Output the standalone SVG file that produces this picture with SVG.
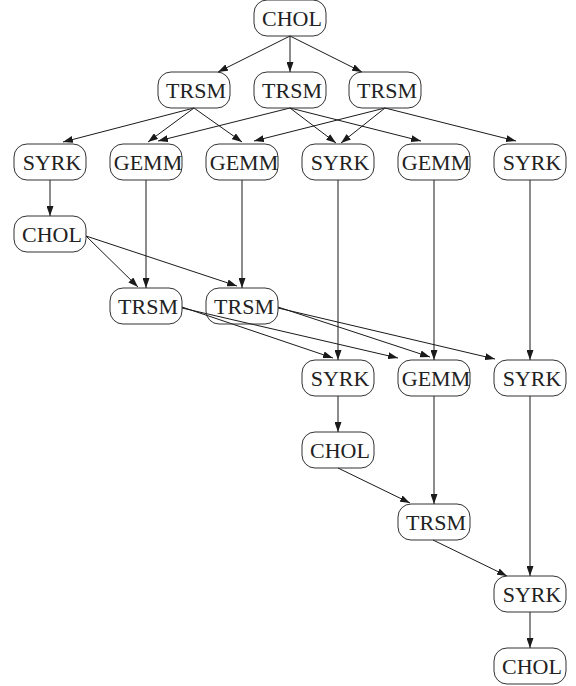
<svg xmlns="http://www.w3.org/2000/svg" width="576" height="686" viewBox="0 0 576 686">
<defs>
<marker id="ah" markerUnits="userSpaceOnUse" markerWidth="10" markerHeight="7" refX="10" refY="3.5" orient="auto">
<path d="M0,0 L10,3.5 L0,7 z" fill="#1a1a1a"/>
</marker>
<style>
.n rect{fill:none;stroke:#333;stroke-width:1}
.n text{font-size:22px;fill:#222;text-anchor:middle}
#edges line{stroke:#1a1a1a;stroke-width:1;marker-end:url(#ah)}
</style>
</defs>
<rect width="576" height="686" fill="#fff"/>
<g id="edges">
<line x1="290" y1="36" x2="218" y2="72"/>
<line x1="290" y1="36" x2="290" y2="72"/>
<line x1="290" y1="36" x2="362" y2="72"/>
<line x1="194" y1="108" x2="63" y2="142"/>
<line x1="194" y1="108" x2="148" y2="142"/>
<line x1="194" y1="108" x2="242" y2="142"/>
<line x1="290" y1="108" x2="158" y2="141"/>
<line x1="290" y1="108" x2="336" y2="143"/>
<line x1="290" y1="108" x2="421" y2="141"/>
<line x1="385" y1="108" x2="254" y2="141"/>
<line x1="385" y1="108" x2="341" y2="143"/>
<line x1="385" y1="108" x2="516" y2="141"/>
<line x1="50" y1="180" x2="50" y2="216"/>
<line x1="146" y1="180" x2="146" y2="288"/>
<line x1="242" y1="180" x2="242" y2="288"/>
<line x1="338" y1="180" x2="338" y2="360"/>
<line x1="434" y1="180" x2="434" y2="360"/>
<line x1="530" y1="180" x2="530" y2="360"/>
<line x1="86" y1="236" x2="138" y2="287"/>
<line x1="86" y1="236" x2="237" y2="286"/>
<line x1="182" y1="307" x2="333" y2="358"/>
<line x1="182" y1="308" x2="398" y2="358"/>
<line x1="278" y1="307" x2="430" y2="357"/>
<line x1="278" y1="308" x2="495" y2="359"/>
<line x1="338" y1="396" x2="338" y2="432"/>
<line x1="338" y1="468" x2="410" y2="503"/>
<line x1="434" y1="396" x2="434" y2="504"/>
<line x1="530" y1="396" x2="530" y2="576"/>
<line x1="433" y1="540" x2="507" y2="576"/>
<line x1="530" y1="612" x2="530" y2="648"/>
</g>
<g font-family="'Liberation Serif', 'DejaVu Serif', serif">
<g id="chol0" class="n"><rect x="254" y="0" width="72" height="36" rx="13"/><text x="292" y="25.5">CHOL</text></g>
<g id="trsm1a" class="n"><rect x="158" y="72" width="72" height="36" rx="13"/><text x="196" y="97.5">TRSM</text></g>
<g id="trsm1b" class="n"><rect x="254" y="72" width="72" height="36" rx="13"/><text x="292" y="97.5">TRSM</text></g>
<g id="trsm1c" class="n"><rect x="349" y="72" width="72" height="36" rx="13"/><text x="387" y="97.5">TRSM</text></g>
<g id="syrk2a" class="n"><rect x="14" y="144" width="72" height="36" rx="13"/><text x="52" y="169.5">SYRK</text></g>
<g id="gemm2a" class="n"><rect x="110" y="144" width="72" height="36" rx="13"/><text x="148" y="169.5">GEMM</text></g>
<g id="gemm2b" class="n"><rect x="206" y="144" width="72" height="36" rx="13"/><text x="244" y="169.5">GEMM</text></g>
<g id="syrk2b" class="n"><rect x="302" y="144" width="72" height="36" rx="13"/><text x="340" y="169.5">SYRK</text></g>
<g id="gemm2c" class="n"><rect x="398" y="144" width="72" height="36" rx="13"/><text x="436" y="169.5">GEMM</text></g>
<g id="syrk2c" class="n"><rect x="494" y="144" width="72" height="36" rx="13"/><text x="532" y="169.5">SYRK</text></g>
<g id="chol3" class="n"><rect x="14" y="216" width="72" height="36" rx="13"/><text x="52" y="241.5">CHOL</text></g>
<g id="trsm4a" class="n"><rect x="110" y="288" width="72" height="36" rx="13"/><text x="148" y="313.5">TRSM</text></g>
<g id="trsm4b" class="n"><rect x="206" y="288" width="72" height="36" rx="13"/><text x="244" y="313.5">TRSM</text></g>
<g id="syrk5a" class="n"><rect x="302" y="360" width="72" height="36" rx="13"/><text x="340" y="385.5">SYRK</text></g>
<g id="gemm5" class="n"><rect x="398" y="360" width="72" height="36" rx="13"/><text x="436" y="385.5">GEMM</text></g>
<g id="syrk5b" class="n"><rect x="494" y="360" width="72" height="36" rx="13"/><text x="532" y="385.5">SYRK</text></g>
<g id="chol6" class="n"><rect x="302" y="432" width="72" height="36" rx="13"/><text x="340" y="457.5">CHOL</text></g>
<g id="trsm7" class="n"><rect x="398" y="504" width="72" height="36" rx="13"/><text x="436" y="529.5">TRSM</text></g>
<g id="syrk8" class="n"><rect x="494" y="576" width="72" height="36" rx="13"/><text x="532" y="601.5">SYRK</text></g>
<g id="chol9" class="n"><rect x="494" y="648" width="72" height="36" rx="13"/><text x="532" y="673.5">CHOL</text></g>
</g>
</svg>
